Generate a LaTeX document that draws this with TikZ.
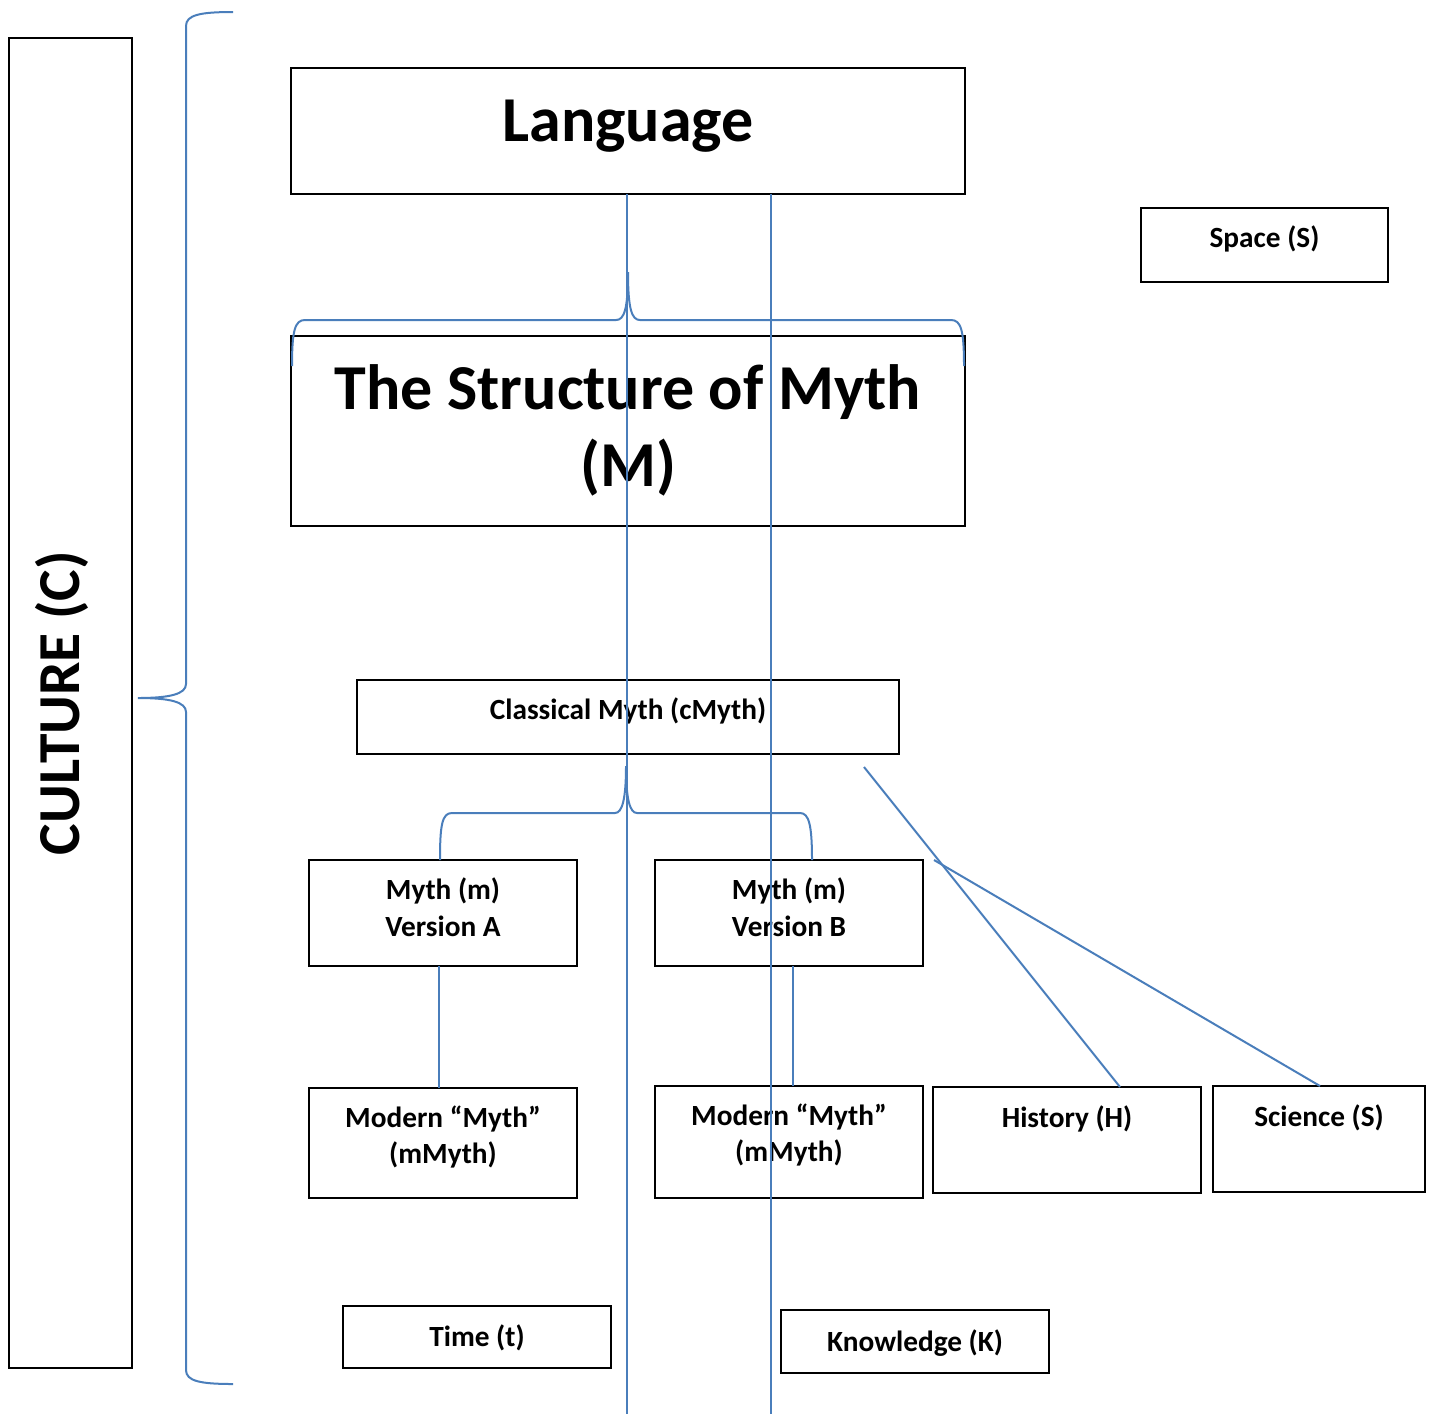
\documentclass[tikz,border=0pt]{standalone}
\usepackage{fontspec}
\setmainfont{Carlito}
\definecolor{lineblue}{HTML}{4A7EBB}
\begin{document}
\begin{tikzpicture}[x=1pt,y=-1pt,
  box/.style={draw=black, line width=2.2pt, rectangle, inner sep=0pt, outer sep=0pt},
  conn/.style={draw=lineblue, line width=2pt},
  big/.style={font=\fontsize{64}{77}\selectfont\bfseries, inner sep=0pt, anchor=base},
  huge/.style={font=\fontsize{59.5}{71}\selectfont\bfseries, inner sep=0pt, anchor=base},
  small/.style={font=\fontsize{29.3}{35}\selectfont\bfseries, inner sep=0pt, anchor=base}]
\useasboundingbox (0,0) rectangle (1434,1414);

% boxes
\node[box, minimum width=123pt, minimum height=1330pt] (culture) at (70.5,703) {};
\node[box, minimum width=674pt, minimum height=126pt] (lang) at (628,131) {};
\node[box, minimum width=674pt, minimum height=190pt] (struct) at (628,431) {};
\node[box, minimum width=247pt, minimum height=74pt] (space) at (1264.5,245) {};
\node[box, minimum width=542pt, minimum height=74pt] (classical) at (628,717) {};
\node[box, minimum width=268pt, minimum height=106pt] (mythA) at (443,913) {};
\node[box, minimum width=268pt, minimum height=106pt] (mythB) at (789,913) {};
\node[box, minimum width=268pt, minimum height=110pt] (modA) at (443,1143) {};
\node[box, minimum width=268pt, minimum height=112pt] (modB) at (789,1142) {};
\node[box, minimum width=268pt, minimum height=106pt] (hist) at (1067,1140) {};
\node[box, minimum width=212pt, minimum height=106pt] (sci) at (1319,1139) {};
\node[box, minimum width=268pt, minimum height=62pt] (time) at (477,1337) {};
\node[box, minimum width=268pt, minimum height=63pt] (know) at (915,1341.5) {};

% texts
\node[huge, rotate=90] (cultureT) at (79,703) {CULTURE (C)};
\node[big] (langT) at (628,141) {Language};
\node[big] (structT1) at (628,409) {The Structure of Myth};
\node[big] (structT2) at (628,486) {(M)};
\node[small] (spaceT) at (1264.5,247) {Space (S)};
\node[small] (classicalT) at (628,719) {Classical Myth (cMyth)};
\node[small] (mythAT1) at (443,899) {Myth (m)};
\node[small] (mythAT2) at (443,936) {Version A};
\node[small] (mythBT1) at (789,899) {Myth (m)};
\node[small] (mythBT2) at (789,936) {Version B};
\node[small] (modAT1) at (443,1127) {Modern “Myth”};
\node[small] (modAT2) at (443,1163) {(mMyth)};
\node[small] (modBT1) at (789,1125) {Modern “Myth”};
\node[small] (modBT2) at (789,1161) {(mMyth)};
\node[small] (histT) at (1067,1127) {History (H)};
\node[small] (sciT) at (1319,1126) {Science (S)};
\node[small] (timeT) at (477,1346) {Time (t)};
\node[small] (knowT) at (915,1351) {Knowledge (K)};

% braces
\draw[conn] (233,12) .. controls (200,12) and (186,15) .. (186,26) -- (186,684)
  .. controls (186,694) and (170,698) .. (138,698)
  .. controls (170,698) and (186,702) .. (186,712) -- (186,1370)
  .. controls (186,1381) and (200,1384) .. (233,1384);
\draw[conn] (292,366) .. controls (292,330) and (295,320) .. (305,320) -- (616,320)
  .. controls (624,320) and (628,310) .. (628,272)
  .. controls (628,310) and (632,320) .. (640,320) -- (951,320)
  .. controls (961,320) and (964,330) .. (964,366);
\draw[conn] (mythA.north -| 440,0) .. controls (440,825) and (442,813) .. (452,813) -- (615,813)
  .. controls (622,813) and (626,800) .. (626,766)
  .. controls (626,800) and (630,813) .. (637,813) -- (800,813)
  .. controls (809,813) and (812,825) .. (mythB.north -| 812,0);

% long vertical lines
\coordinate (v1) at (627,1414);
\coordinate (v2) at (771,1414);
\draw[conn] (lang.south -| v1) -- (v1);
\draw[conn] (lang.south -| v2) -- (v2);

% connectors
\draw[conn] (mythA.south -| 439,0) -- (modA.north -| 439,0);
\draw[conn] (mythB.south -| 793,0) -- (modB.north -| 793,0);
\coordinate (d1) at (864,767);
\coordinate (d2) at (934,860);
\draw[conn] (d1) -- (hist.north -| 1120,0);
\draw[conn] (d2) -- (sci.north -| 1320,0);
\end{tikzpicture}
\end{document}
